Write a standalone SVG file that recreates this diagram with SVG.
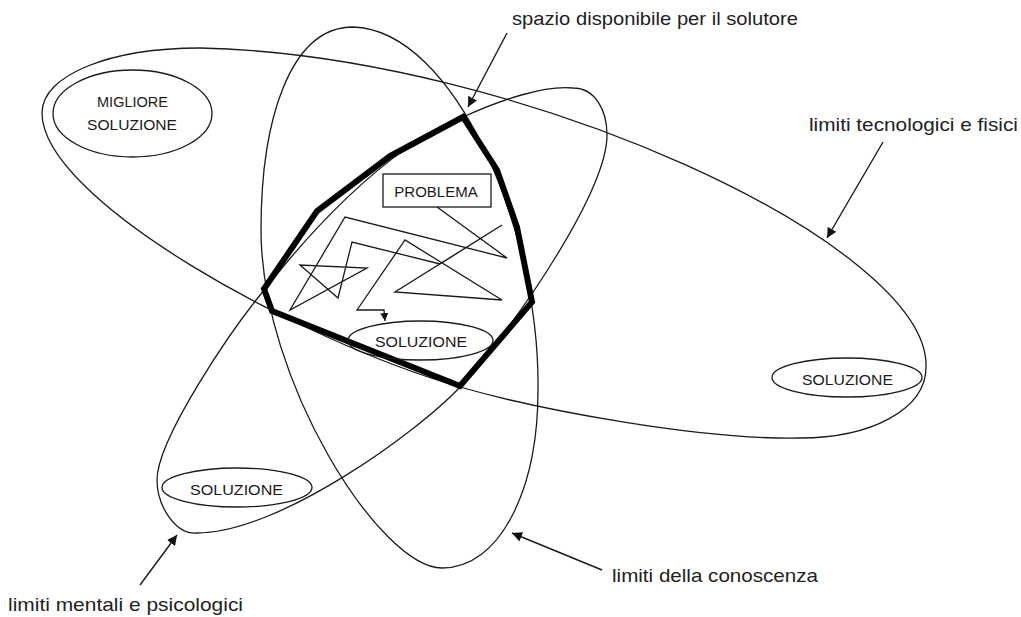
<svg xmlns="http://www.w3.org/2000/svg" width="1021" height="617" viewBox="0 0 1021 617">
<style>
.thin{fill:none;stroke:#1a1a1a;stroke-width:1.3}
.thick{fill:none;stroke:#000;stroke-width:6;stroke-linejoin:miter}
.lbl{font-family:"Liberation Sans",Arial,sans-serif;font-size:19px;fill:#222}
.cap{font-family:"Liberation Sans",Arial,sans-serif;font-size:15px;fill:#1a1a1a;text-anchor:middle}
.arr{fill:none;stroke:#1a1a1a;stroke-width:1.4}
</style>
<defs>
<marker id="ah" markerUnits="userSpaceOnUse" markerWidth="12" markerHeight="10" refX="10" refY="5" orient="auto">
<path d="M0,0 L10,5 L0,10 Z" fill="#111"/>
</marker>
<marker id="ahs" markerUnits="userSpaceOnUse" markerWidth="10" markerHeight="8" refX="8" refY="4" orient="auto">
<path d="M0,0 L8,4 L0,8 Z" fill="#111"/>
</marker>
</defs>
<rect width="1021" height="617" fill="#fff"/>

<g id="region-tecnologici">
<path class="thin" d="M42,113 C42,75 110,48 200,48 C520,55 930,245 926,367 C926,410 870,438 800,438 C700,440 540,410 460,387 C300,341 42,200 42,113 Z"/>
</g>
<g id="region-conoscenza">
<path class="thin" d="M353,27 C455,30 540,230 538,390 C538,490 500,568 442,568 C380,568 261,380 261,230 C261,120 290,27 353,27 Z"/>
</g>
<g id="region-mentali">
<path class="thin" d="M573,88 C595,88 607,110 607,135 C607,190 520,320 460,387 C420,430 280,533 197,533 C175,535 157,505 157,480 C157,440 230,330 270,283 C300,245 380,150 463,117 C500,100 545,85 573,88 Z"/>
</g>

<g id="spazio-disponibile">
<path class="thick" d="M463,117 L497,170 L517,227 L532,302 L460,386 L272,311 L264,289 L317,211 L390,156 Z"/>
</g>

<g id="node-problema">
<rect x="383" y="174" width="108" height="33" fill="#fff" stroke="#1a1a1a" stroke-width="1.3"/>
<text class="cap" x="436" y="197">PROBLEMA</text>
</g>

<g id="node-soluzione-centro">
<ellipse cx="420.5" cy="340.5" rx="72.5" ry="19.5" class="thin" fill="#fff"/>
<text class="cap" x="421" y="347" textLength="92" lengthAdjust="spacingAndGlyphs">SOLUZIONE</text>
</g>
<g id="node-soluzione-destra">
<ellipse cx="847" cy="377.5" rx="75" ry="19.5" class="thin"/>
<text class="cap" x="847.5" y="385" textLength="91" lengthAdjust="spacingAndGlyphs">SOLUZIONE</text>
</g>
<g id="node-soluzione-sinistra">
<ellipse cx="237" cy="487.5" rx="75" ry="19.5" class="thin"/>
<text class="cap" x="236.5" y="495" textLength="93" lengthAdjust="spacingAndGlyphs">SOLUZIONE</text>
</g>
<g id="node-migliore-soluzione">
<ellipse cx="132.5" cy="113.5" rx="79.5" ry="43.5" class="thin"/>
<text class="cap" x="132.5" y="107" textLength="71" lengthAdjust="spacingAndGlyphs">MIGLIORE</text>
<text class="cap" x="132" y="130" textLength="90" lengthAdjust="spacingAndGlyphs">SOLUZIONE</text>
</g>

<g id="labels">
<text class="lbl" x="512" y="25" textLength="286" lengthAdjust="spacingAndGlyphs">spazio disponibile per il solutore</text>
<text class="lbl" x="809" y="131" textLength="209" lengthAdjust="spacingAndGlyphs">limiti tecnologici e fisici</text>
<text class="lbl" x="612" y="582" textLength="206" lengthAdjust="spacingAndGlyphs">limiti della conoscenza</text>
<text class="lbl" x="8" y="611" textLength="235" lengthAdjust="spacingAndGlyphs">limiti mentali e psicologici</text>
</g>

<g id="connectors">
<path class="arr" d="M507,33 L468,107" marker-end="url(#ah)"/>
<path class="arr" d="M883,142 L827,238" marker-end="url(#ah)"/>
<path class="arr" d="M140,585 L177,535" marker-end="url(#ah)"/>
<path class="arr" d="M602,570 L512,533" marker-end="url(#ah)"/>
<path id="percorso" class="thin" d="M437,207 L507,258 L345,217 L290,310 L367,268 L300,265 L338,298 L352,242 L440,264 L502,225 L395,292 L502,300 L405,240 L357,310 L384,310 L385,321" marker-end="url(#ahs)"/>
</g>
</svg>
